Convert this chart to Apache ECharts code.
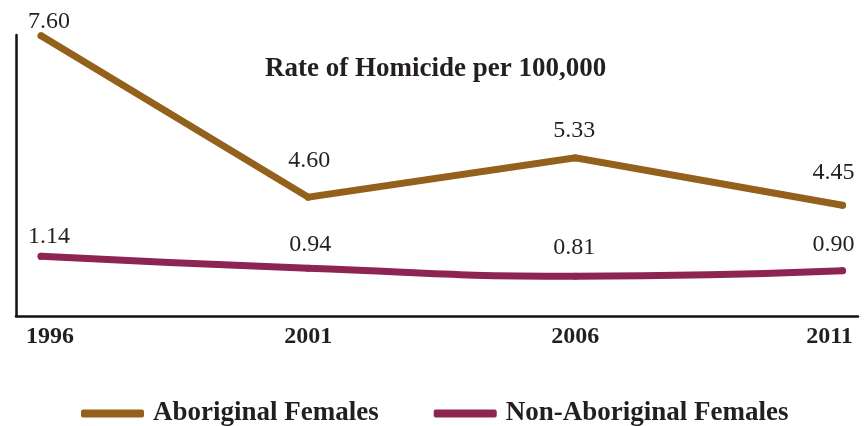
<!DOCTYPE html>
<html>
<head>
<meta charset="utf-8">
<script src="https://cdn.jsdelivr.net/npm/echarts@6/dist/echarts.min.js"></script>
<style>html,body{margin:0;padding:0;background:#fff;}#c{width:865px;height:426px;}</style>
</head>
<body>
<div id="c"></div>
<script>
const years = [1996, 2001, 2006, 2011];
const aboriginal = [7.60, 4.60, 5.33, 4.45];
const nonAboriginal = [1.14, 0.94, 0.81, 0.90];
const seriesNames = ['Aboriginal Females', 'Non-Aboriginal Females'];
const titleText = 'Rate of Homicide per 100,000';

// label placement tweaks (layout only)
const aboOffsets = [[8, 1], [1, -21], [-1, -12], [-9, -17]];
const nonOffsets = [[8, -4], [2, -8], [-1, -13], [-9, -11]];

const FONT = '"Liberation Serif", "Times New Roman", serif';
const TXT = '#231f20';
const BROWN = '#93611b';
const PLUM = '#8e2454';

function build(vals, offs) {
  return years.map((y, i) => ({
    value: [y, vals[i]],
    label: { offset: offs[i] }
  }));
}

const chart = echarts.init(document.getElementById('c'), null, { renderer: 'canvas' });
chart.setOption({
  animation: false,
  backgroundColor: '#fff',
  title: {
    text: titleText,
    left: 265, top: 56, padding: 0,
    textStyle: { fontFamily: FONT, fontWeight: 'bold', fontSize: 27, color: TXT }
  },
  legend: {
    left: 76, top: 395,
    icon: 'roundRect',
    itemWidth: 63, itemHeight: 8, itemGap: 55,
    textStyle: { fontFamily: FONT, fontWeight: 'bold', fontSize: 27, color: TXT, padding: [0, 0, 0, 4] },
    data: seriesNames
  },
  grid: { left: 16, right: 7, top: 35, bottom: 110, containLabel: false },
  xAxis: {
    type: 'value',
    min: 1995.53, max: 2011.29,
    axisLine: { show: true, onZero: false, lineStyle: { color: '#111', width: 2.5 } },
    axisTick: { show: false },
    splitLine: { show: false },
    axisLabel: {
      customValues: years,
      margin: 9,
      fontFamily: FONT, fontWeight: 'bold', fontSize: 24, color: TXT,
      formatter: function (v) {
        if (v === years[0]) return '{a|' + v + '}';
        if (v === years[years.length - 1]) return '{b|' + v + '}';
        return '{c|' + v + '}';
      },
      rich: {
        a: { fontFamily: FONT, fontWeight: 'bold', fontSize: 24, color: TXT, padding: [0, 0, 0, 18] },
        b: { fontFamily: FONT, fontWeight: 'bold', fontSize: 24, color: TXT, padding: [0, 26, 0, 0] },
        c: { fontFamily: FONT, fontWeight: 'bold', fontSize: 24, color: TXT }
      }
    }
  },
  yAxis: [
    {
      type: 'value', min: 2.389, max: 7.616,
      axisLine: { show: true, lineStyle: { color: '#111', width: 2.5 } },
      axisTick: { show: false }, axisLabel: { show: false }, splitLine: { show: false }
    },
    {
      type: 'value', min: 0.146, max: 4.829, show: false,
      splitLine: { show: false }
    }
  ],
  series: [
    {
      name: seriesNames[0], type: 'line', yAxisIndex: 0,
      data: build(aboriginal, aboOffsets),
      symbol: 'circle', symbolSize: 7, showSymbol: true,
      itemStyle: { color: BROWN },
      lineStyle: { color: BROWN, width: 7, cap: 'round', join: 'miter' },
      label: {
        show: true, position: 'top', distance: 0,
        fontFamily: FONT, fontSize: 24, color: TXT,
        formatter: p => p.value[1].toFixed(2)
      }
    },
    {
      name: seriesNames[1], type: 'line', yAxisIndex: 1,
      data: build(nonAboriginal, nonOffsets),
      smooth: 0.5,
      symbol: 'circle', symbolSize: 7, showSymbol: true,
      itemStyle: { color: PLUM },
      lineStyle: { color: PLUM, width: 7, cap: 'round' },
      label: {
        show: true, position: 'top', distance: 0,
        fontFamily: FONT, fontSize: 24, color: TXT,
        formatter: p => p.value[1].toFixed(2)
      }
    }
  ]
});
</script>
</body>
</html>
